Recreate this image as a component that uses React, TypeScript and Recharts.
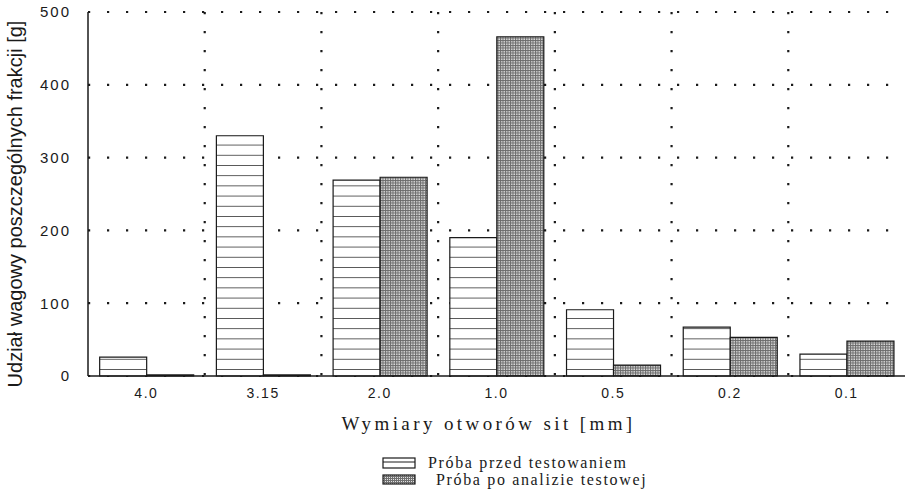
import { BarChart, Bar, XAxis, YAxis, CartesianGrid, Legend, Label } from "recharts"

// sieve sizes and fraction weights [g]
const sieves = ["4.0", "3.15", "2.0", "1.0", "0.5", "0.2", "0.1"]
const before = [26, 330, 269, 190, 91, 67, 30]
const after = [1.5, 1.5, 273, 466, 15, 53, 48]
const yTicks = [0, 100, 200, 300, 400, 500]
const seriesOrder = ["before", "after"]

const data = sieves.map((s, i) => ({ sieve: s, before: before[i], after: after[i] }))

const INK = "#1a1a1a"

function YTitle(props: any) {
  const vb = props.viewBox
  const cy = vb.y + vb.height / 2 + 10
  return (
    <text
      x={15}
      y={cy}
      transform={`rotate(-90 15 ${cy})`}
      textAnchor="middle"
      dominantBaseline="central"
      fontFamily="Liberation Sans, Arial, sans-serif"
      fontSize={20}
      fill={INK}
    >
      Udział wagowy poszczególnych frakcji [g]
    </text>
  )
}

function XTitle(props: any) {
  const vb = props.viewBox
  return (
    <text
      x={vb.x + vb.width / 2 - 8}
      y={vb.y + 54}
      textAnchor="middle"
      fontFamily="Liberation Serif, Times New Roman, serif"
      fontSize={19}
      letterSpacing={3.4}
      fill={INK}
    >
      Wymiary otworów sit [mm]
    </text>
  )
}

function LegendBox(props: any) {
  const items = [...(props.payload || [])].sort(
    (a: any, b: any) => seriesOrder.indexOf(a.dataKey) - seriesOrder.indexOf(b.dataKey)
  )
  return (
    <div style={{ height: 40, position: "relative" }}>
      {items.map((it: any, i: number) => (
        <div
          key={it.value}
          style={{
            position: "absolute",
            left: 2,
            top: i * 17,
            display: "flex",
            alignItems: "center",
            fontFamily: "Liberation Serif, Times New Roman, serif",
            fontSize: 16,
            letterSpacing: 1.65,
            color: INK,
            whiteSpace: "nowrap",
          }}
        >
          <svg width={34} height={12} style={{ marginRight: i === 0 ? 12 : 20 }}>
            <defs>
              <pattern id="lg-dots" width={2} height={2} patternUnits="userSpaceOnUse">
                <rect width={2} height={2} fill="#e2e2e2" />
                <rect width={1} height={2} fill="#707070" />
                <rect width={2} height={1} fill="#707070" />
              </pattern>
            </defs>
            <rect
              x={1}
              y={1}
              width={32}
              height={i === 0 ? 10 : 9}
              fill={i === 0 ? "#fff" : "url(#lg-dots)"}
              stroke={INK}
              strokeWidth={1.2}
            />
            {i === 0 && <line x1={1} x2={33} y1={5} y2={5} stroke={INK} strokeWidth={1} />}
          </svg>
          <span>{it.value}</span>
        </div>
      ))}
    </div>
  )
}

export default function App() {
  return (
    <div style={{ position: "absolute", left: 0, top: 0, background: "#fff" }}>
      <BarChart
        width={908}
        height={498}
        data={data}
        margin={{ top: 12, right: 3, left: 0, bottom: 0 }}
        barCategoryGap="10%"
        barGap={0}
      >
        <defs>
          <pattern id="hatch" width={20} height={10.2} y={1.8} patternUnits="userSpaceOnUse">
            <rect width={20} height={10.2} fill="#fff" />
            <line x1={0} x2={20} y1={0} y2={0} stroke={INK} strokeWidth={1.4} />
          </pattern>
          <pattern id="dots" width={2.5} height={2.5} patternUnits="userSpaceOnUse">
            <rect width={2.5} height={2.5} fill="#e0e0e0" />
            <rect width={1} height={2.5} fill="#6a6a6a" />
            <rect width={2.5} height={1} fill="#6a6a6a" />
          </pattern>
        </defs>
        <CartesianGrid
          stroke={INK}
          strokeWidth={2.2}
          strokeDasharray="2.2 16.8"
          verticalCoordinatesGenerator={({ offset }: any) =>
            sieves.slice(1).map((_, i) => offset.left + ((i + 1) * offset.width) / sieves.length)
          }
        />
        <XAxis
          dataKey="sieve"
          height={82}
          tickLine={false}
          axisLine={{ stroke: INK, strokeWidth: 1.5 }}
          tickMargin={6}
          tick={{ fontFamily: "Liberation Sans, Arial, sans-serif", fontSize: 14, letterSpacing: 1.5, fill: INK }}
        >
          <Label content={<XTitle />} />
        </XAxis>
        <XAxis xAxisId="top" dataKey="sieve" orientation="top" height={0} tick={false} tickLine={false} axisLine={{ stroke: INK, strokeWidth: 1.5 }} />
        <YAxis
          width={88}
          domain={[0, 500]}
          ticks={yTicks}
          tickLine={false}
          axisLine={{ stroke: INK, strokeWidth: 1.5 }}
          tickMargin={11}
          tick={{ fontFamily: "Liberation Sans, Arial, sans-serif", fontSize: 15, letterSpacing: 2, fill: INK }}
        >
          <Label content={<YTitle />} />
        </YAxis>
        <YAxis yAxisId="right" orientation="right" width={0} domain={[0, 500]} tick={false} tickLine={false} axisLine={{ stroke: INK, strokeWidth: 1.5 }} />
        <Bar dataKey="before" name="Próba przed testowaniem" fill="url(#hatch)" stroke={INK} strokeWidth={1.2} isAnimationActive={false} />
        <Bar dataKey="after" name="Próba po analizie testowej" fill="url(#dots)" stroke={INK} strokeWidth={1.2} isAnimationActive={false} />
        <Legend
          verticalAlign="bottom"
          content={<LegendBox />}
          wrapperStyle={{ left: 380, top: 454, width: 320, height: 40 }}
        />
      </BarChart>
    </div>
  )
}
